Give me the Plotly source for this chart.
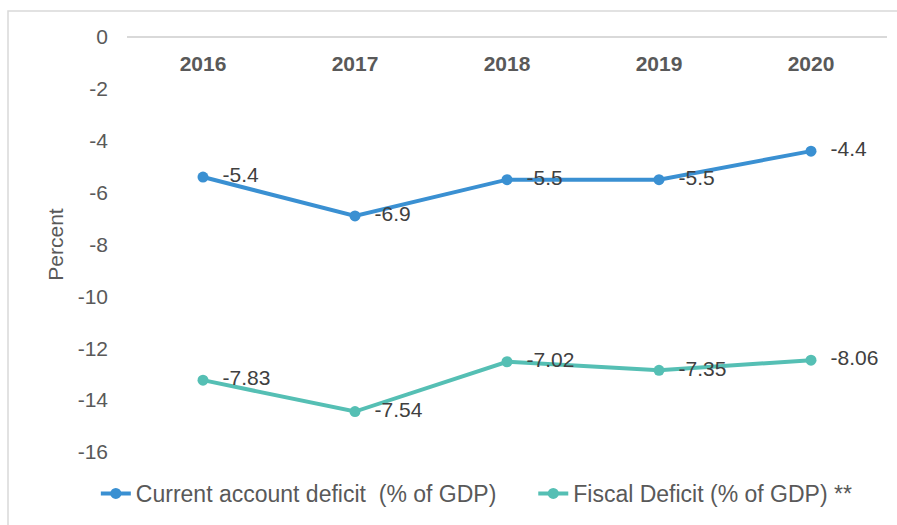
import plotly.graph_objects as go

years = ["2016", "2017", "2018", "2019", "2020"]
current_account = [-5.4, -6.9, -5.5, -5.5, -4.4]
fiscal_deficit = [-7.83, -7.54, -7.02, -7.35, -8.06]
y_ticks = [0, -2, -4, -6, -8, -10, -12, -14, -16]

blue = "#3A90D2"
teal = "#55BFB4"
txt = "#595959"
font_family = "Liberation Sans, Arial, sans-serif"
NB = "\u00a0"

fig = go.Figure()
fig.add_trace(go.Scatter(
    x=years, y=current_account, name=f"Current account deficit{NB}{NB}(% of GDP){NB*5}",
    mode="lines+markers+text", stackgroup="one", fill="none",
    line=dict(color=blue, width=4), marker=dict(size=11, color=blue),
    text=[f"{NB}{NB}{v:g}" for v in current_account], textposition="middle right",
    textfont=dict(size=21, color="#404040", family=font_family),
))
fig.add_trace(go.Scatter(
    x=years, y=fiscal_deficit, name="Fiscal Deficit (% of GDP) **",
    mode="lines+markers+text", stackgroup="one", fill="none",
    line=dict(color=teal, width=4), marker=dict(size=11, color=teal),
    text=[f"{NB}{NB}{v:g}" for v in fiscal_deficit], textposition="middle right",
    textfont=dict(size=21, color="#404040", family=font_family),
))

fig.update_layout(
    width=897, height=525,
    margin=dict(l=127, r=10, t=37, b=73),
    paper_bgcolor="white", plot_bgcolor="white",
    font=dict(family=font_family, color=txt, size=21),
    showlegend=True,
    legend=dict(orientation="h", x=-0.041, xanchor="left", y=-0.1, yanchor="middle",
                font=dict(size=23, color=txt), tracegroupgap=0,
                traceorder="normal"),
    xaxis=dict(
        type="category", range=[-0.5, 4.5], side="bottom",
        anchor="free", position=1,
        ticklabelstandoff=8,
        showline=True, linecolor="#D9D9D9", linewidth=1.5,
        showgrid=False, ticks="", tickfont=dict(size=21, color=txt, weight="bold"),
    ),
    yaxis=dict(
        range=[-16, 0], tickvals=y_ticks, ticktext=[str(v) for v in y_ticks],
        showgrid=False, zeroline=False, showline=False, ticks="",
        ticklabelstandoff=18, tickfont=dict(size=21, color=txt),
        title=dict(text="Percent", font=dict(size=21, color=txt), standoff=8),
    ),
    shapes=[dict(type="rect", xref="paper", yref="paper",
                 x0=-(127 - 8) / 760, x1=1.05, y0=-0.3, y1=1 + (37 - 11) / 415,
                 line=dict(color="#D9D9D9", width=1.5), fillcolor="rgba(0,0,0,0)",
                 layer="below")],
)

fig.write_html("out.html")
